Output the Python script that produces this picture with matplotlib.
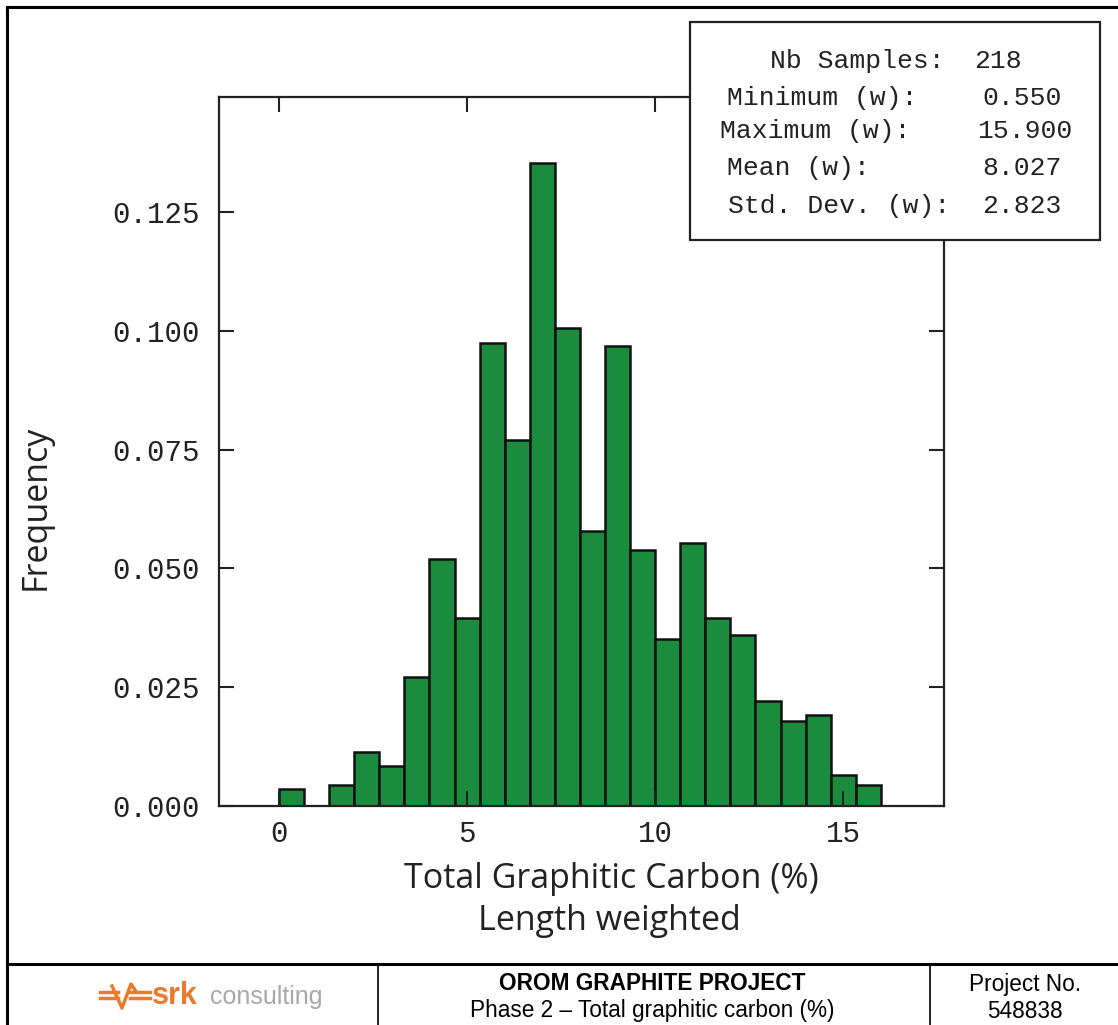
import numpy as np
import matplotlib
matplotlib.use("Agg")
import matplotlib.pyplot as plt
from matplotlib.patches import Rectangle
from matplotlib.lines import Line2D

# ---- data ----
bin_edges = np.linspace(0.0, 16.0, 25)
frequencies = [0.0035, 0.0, 0.0045, 0.0114, 0.0085, 0.0272, 0.0519, 0.0395,
               0.0974, 0.0771, 0.1353, 0.1006, 0.0578, 0.0968, 0.0539, 0.0351,
               0.0553, 0.0395, 0.0360, 0.0222, 0.0178, 0.0192, 0.0065, 0.0044]
x_ticks = [0, 5, 10, 15]
y_ticks = [0.000, 0.025, 0.050, 0.075, 0.100, 0.125]
stat_labels = ["Nb Samples:", "Minimum (w):", "Maximum (w):", "Mean (w):", "Std. Dev. (w):"]
stat_values = ["218", "0.550", "15.900", "8.027", "2.823"]

W, H = 1118, 1025
fig = plt.figure(figsize=(W / 100, H / 100), dpi=100)

def fx(px):
    return px / W

def fy(py):
    return 1 - py / H

ax = fig.add_axes([fx(219), fy(806), fx(944) - fx(219), fy(97) - fy(806)])
widths = np.diff(bin_edges)
ax.bar(bin_edges[:-1], frequencies, width=widths, align="edge",
       color="#1b8c3e", edgecolor="#111111", linewidth=1.8)
ax.set_xlim(-1.595, 17.68)
ax.set_ylim(0, 0.1492)
ax.set_xticks(x_ticks)
ax.set_yticks(y_ticks)
ax.set_xticklabels([str(t) for t in x_ticks])
ax.set_yticklabels(["%.3f" % t for t in y_ticks])
mono = "Liberation Mono"
ax.tick_params(direction="in", length=11, width=1.5, top=True, right=True,
               labelsize=21, colors="#222222")
ax.tick_params(axis="y", pad=14)
ax.tick_params(axis="x", pad=10)
for lab in ax.get_xticklabels() + ax.get_yticklabels():
    lab.set_fontfamily(mono)
for s in ax.spines.values():
    s.set_linewidth(1.6)
    s.set_color("#222222")

fig.text(fx(36), fy(507), "Frequency", rotation=90, ha="center", va="center",
         fontsize=24.5, family="Open Sans", color="#222222")
fig.text(fx(611), fy(879), "Total Graphitic Carbon (%)", ha="center", va="center",
         fontsize=24.5, family="Open Sans", color="#222222")
fig.text(fx(609), fy(921), "Length weighted", ha="center", va="center",
         fontsize=24.5, family="Open Sans", color="#222222")

# stats box
fig.add_artist(Rectangle((fx(690), fy(240)), fx(1100) - fx(690), fy(22) - fy(240),
                         transform=fig.transFigure, facecolor="white",
                         edgecolor="#222222", linewidth=1.6, zorder=5))
label_x = [770, 727, 720, 727, 728]
value_x = [1022, 1062, 1072, 1062, 1062]
line_y = [61, 98, 131, 168, 206]
for lab, val, lx, vx, ly in zip(stat_labels, stat_values, label_x, value_x, line_y):
    fig.text(fx(lx), fy(ly), lab, ha="left", va="center", fontsize=19,
             family=mono, color="#222222", zorder=6)
    fig.text(fx(vx), fy(ly), val, ha="right", va="center", fontsize=19,
             family=mono, color="#222222", zorder=6)

# frame and footer
lw = 2.2
fig.add_artist(Line2D([fx(7), fx(7)], [fy(7), 0], color="black", lw=lw))
fig.add_artist(Line2D([fx(7), 1], [fy(7), fy(7)], color="black", lw=lw))
fig.add_artist(Line2D([fx(7), 1], [fy(964), fy(964)], color="black", lw=lw))
fig.add_artist(Line2D([fx(378), fx(378)], [fy(964), 0], color="black", lw=1.2))
fig.add_artist(Line2D([fx(930), fx(930)], [fy(964), 0], color="black", lw=1.2))

fs_foot = 16.3
fig.text(fx(652), fy(984), "OROM GRAPHITE PROJECT", ha="center", va="center",
         fontsize=fs_foot, weight="bold", family="Liberation Sans", color="black")
fig.text(fx(652), fy(1011), "Phase 2 \u2013 Total graphitic carbon (%)", ha="center",
         va="center", fontsize=fs_foot, family="Liberation Sans", color="black")
fig.text(fx(1025), fy(985), "Project No.", ha="center", va="center",
         fontsize=fs_foot, family="Liberation Sans", color="black")
fig.text(fx(1025), fy(1011), "548838", ha="center", va="center",
         fontsize=fs_foot, family="Liberation Sans", color="black")

# srk logo
orange = "#ec7a2c"
for yy in (992, 998):
    fig.add_artist(Line2D([fx(100), fx(118)], [fy(yy), fy(yy)], color=orange, lw=2.5))
    fig.add_artist(Line2D([fx(130), fx(150)], [fy(yy), fy(yy)], color=orange, lw=2.5))
fig.add_artist(Line2D([fx(112), fx(122), fx(131), fx(135)],
                      [fy(986), fy(1008), fy(984), fy(990)], color=orange, lw=2.5))
fig.text(fx(152), fy(996), "srk", ha="left", va="center", fontsize=22,
         weight="bold", family="Liberation Sans", color=orange)
fig.text(fx(210), fy(997), "consulting", ha="left", va="center", fontsize=18,
         family="Liberation Sans", color="#a8a8a8")

fig.savefig("out.png", dpi=100)
